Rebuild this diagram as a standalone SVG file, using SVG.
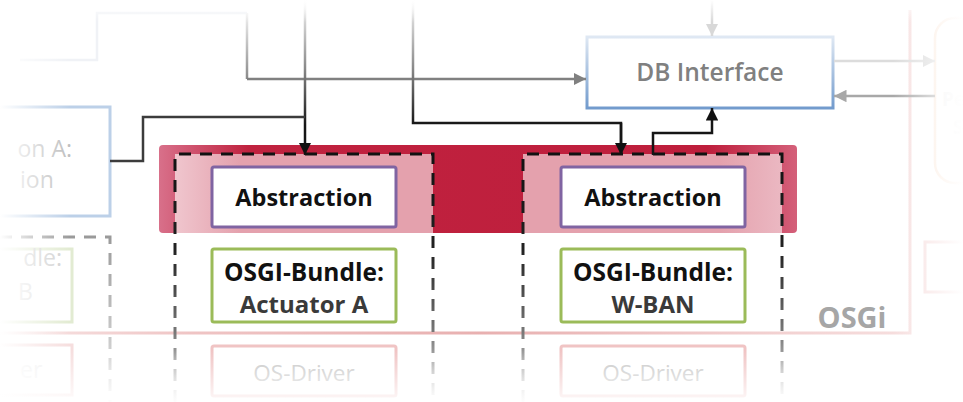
<svg xmlns="http://www.w3.org/2000/svg" width="963" height="402" viewBox="0 0 963 402">
<defs>
<style>
.t{font-family:"Open Sans","Noto Sans","Liberation Sans",sans-serif;text-anchor:middle}
.b{font-weight:700}
.abs{fill:#fff;stroke:#8064a2;stroke-width:3}
.bun{fill:#fff;stroke:#9bbb59;stroke-width:3}
.drv{fill:#fff;stroke:#f0c4c4;stroke-width:3}
.dash{fill:none;stroke-width:3;stroke-dasharray:12 9}
</style>
<linearGradient id="band" gradientUnits="userSpaceOnUse" x1="159" y1="0" x2="797" y2="0">
<stop offset="0" stop-color="#d8708a"/><stop offset="0.14" stop-color="#c0223f"/><stop offset="0.86" stop-color="#be1e3c"/><stop offset="1" stop-color="#d4607a"/>
</linearGradient>
<linearGradient id="pinkL" gradientUnits="userSpaceOnUse" x1="175" y1="0" x2="240" y2="0">
<stop offset="0" stop-color="#f0c6ce"/><stop offset="1" stop-color="#e4a1ad"/>
</linearGradient>
<linearGradient id="pinkR" gradientUnits="userSpaceOnUse" x1="720" y1="0" x2="782" y2="0">
<stop offset="0" stop-color="#e4a1ad"/><stop offset="1" stop-color="#ebb8c2"/>
</linearGradient>
<linearGradient id="dashG" gradientUnits="userSpaceOnUse" x1="0" y1="150" x2="0" y2="402">
<stop offset="0" stop-color="#111"/><stop offset="0.4" stop-color="#222"/><stop offset="0.72" stop-color="#777"/><stop offset="1" stop-color="#e8e8e8"/>
</linearGradient>
<linearGradient id="dashB" gradientUnits="userSpaceOnUse" x1="0" y1="237" x2="0" y2="402">
<stop offset="0" stop-color="#9a9a9a"/><stop offset="1" stop-color="#e8e8e8"/>
</linearGradient>
<linearGradient id="vline" gradientUnits="userSpaceOnUse" x1="0" y1="0" x2="0" y2="125">
<stop offset="0" stop-color="#f6f6f6"/><stop offset="0.55" stop-color="#888"/><stop offset="1" stop-color="#151515"/>
</linearGradient>
<linearGradient id="gline" gradientUnits="userSpaceOnUse" x1="0" y1="13" x2="0" y2="79">
<stop offset="0" stop-color="#f2f2f2"/><stop offset="1" stop-color="#8a8a8a"/>
</linearGradient>
<linearGradient id="dbs" x1="0" y1="0" x2="0" y2="1">
<stop offset="0" stop-color="#dfe8f3"/><stop offset="1" stop-color="#729bcd"/>
</linearGradient>
<linearGradient id="osgiL" gradientUnits="userSpaceOnUse" x1="0" y1="0" x2="963" y2="0">
<stop offset="0" stop-color="#f8e6e6"/><stop offset="0.2" stop-color="#efc4c4"/><stop offset="0.5" stop-color="#e8b0b0"/><stop offset="0.8" stop-color="#f2d0d0"/><stop offset="1" stop-color="#f8e4e4"/>
</linearGradient>
<linearGradient id="fadeL" x1="0" y1="0" x2="1" y2="0">
<stop offset="0" stop-color="#fff" stop-opacity="1"/><stop offset="1" stop-color="#fff" stop-opacity="0"/>
</linearGradient>
<linearGradient id="fadeR" x1="1" y1="0" x2="0" y2="0">
<stop offset="0" stop-color="#fff" stop-opacity="1"/><stop offset="1" stop-color="#fff" stop-opacity="0"/>
</linearGradient>
<linearGradient id="fadeT" x1="0" y1="0" x2="0" y2="1">
<stop offset="0" stop-color="#fff" stop-opacity="1"/><stop offset="1" stop-color="#fff" stop-opacity="0"/>
</linearGradient>
<linearGradient id="fadeB" x1="0" y1="1" x2="0" y2="0">
<stop offset="0" stop-color="#fff" stop-opacity="0.9"/><stop offset="1" stop-color="#fff" stop-opacity="0"/>
</linearGradient>
<marker id="ak" viewBox="0 0 10 10" refX="10" refY="5" markerWidth="5" markerHeight="5" orient="auto" markerUnits="strokeWidth"><path d="M0,0 L10,5 L0,10 z" fill="#111"/></marker>
<marker id="ag" viewBox="0 0 10 10" refX="10" refY="5" markerWidth="5" markerHeight="5" orient="auto" markerUnits="strokeWidth"><path d="M0,0 L10,5 L0,10 z" fill="#808080"/></marker>
<marker id="al" viewBox="0 0 10 10" refX="10" refY="5" markerWidth="5" markerHeight="5" orient="auto" markerUnits="strokeWidth"><path d="M0,0 L10,5 L0,10 z" fill="#d8d8d8"/></marker>
<marker id="am" viewBox="0 0 10 10" refX="10" refY="5" markerWidth="5" markerHeight="5" orient="auto" markerUnits="strokeWidth"><path d="M0,0 L10,5 L0,10 z" fill="#a8a8a8"/></marker>
</defs>
<rect width="963" height="402" fill="#fff"/>

<g id="osgi-frame">
<path d="M0,333 H910 V10" fill="none" stroke="url(#osgiL)" stroke-width="3"/>
<text class="t b" x="852" y="328" font-size="29" fill="#a6a6a6">OSGi</text>
</g>

<g id="persistence">
<rect x="935" y="18" width="80" height="165" rx="20" fill="none" stroke="#fbe8da" stroke-width="2.5"/>
<text class="t b" x="942" y="106" font-size="19" fill="#efefef" style="text-anchor:start">Pe</text>
<text class="t b" x="953" y="134" font-size="19" fill="#efefef" style="text-anchor:start">S</text>
</g>
<g id="right-box"><rect x="925" y="242" width="70" height="50" fill="none" stroke="#f6dcdc" stroke-width="3"/></g>

<g id="application-a">
<rect x="-30" y="107" width="140" height="109" fill="#fff" stroke="#bcd0e8" stroke-width="3"/>
<text class="t" x="72" y="157" font-size="23" fill="#bfbfbf" style="text-anchor:end">on A:</text>
<text class="t" x="20" y="188" font-size="23" fill="#bfbfbf" style="text-anchor:start">ion</text>
</g>

<g id="bundle-b-container">
<path class="dash" d="M0,237 H110 V402" stroke="url(#dashB)"/>
</g>
<g id="bundle-b">
<rect x="-30" y="249" width="102" height="73" fill="#fff" stroke="#e2ebd2" stroke-width="3"/>
<text class="t" x="62" y="266" font-size="23" fill="#d0d0d0" style="text-anchor:end">dle:</text>
<text class="t" x="18" y="300" font-size="23" fill="#dedede" style="text-anchor:start">B</text>
</g>
<g id="os-driver-b">
<rect x="-30" y="345" width="102" height="50" fill="#fff" stroke="#f6dede" stroke-width="3"/>
<text class="t" x="20" y="378" font-size="23" fill="#ececec" style="text-anchor:start">er</text>
</g>

<g id="abstraction-layer">
<rect x="159" y="145" width="638" height="88" rx="4" fill="url(#band)"/>
<rect x="175" y="154" width="258" height="79" fill="url(#pinkL)"/>
<rect x="523" y="154" width="259" height="79" fill="url(#pinkR)"/>
</g>

<g id="bundle-container-a">
<path class="dash" d="M175,402 V154 H433 V402" stroke="url(#dashG)"/>
</g>
<g id="bundle-container-wban">
<path class="dash" d="M523,402 V154 H782 V402" stroke="url(#dashG)"/>
</g>

<g id="abstraction-a">
<rect class="abs" x="212" y="167" width="184" height="60" rx="2"/>
<text class="t b" x="304" y="206" font-size="23.5" fill="#111">Abstraction</text>
</g>
<g id="abstraction-wban">
<rect class="abs" x="561" y="167" width="184" height="60" rx="2"/>
<text class="t b" x="653" y="206" font-size="23.5" fill="#111">Abstraction</text>
</g>

<g id="bundle-actuator-a">
<rect class="bun" x="212" y="249" width="184" height="73" rx="2"/>
<text class="t b" x="304" y="281" font-size="24.5" fill="#111">OSGI-Bundle:</text>
<text class="t b" x="304" y="313" font-size="24" fill="#3a3a3a">Actuator A</text>
</g>
<g id="bundle-wban">
<rect class="bun" x="561" y="249" width="184" height="73" rx="2"/>
<text class="t b" x="653" y="281" font-size="24.5" fill="#111">OSGI-Bundle:</text>
<text class="t b" x="653" y="313" font-size="24" fill="#3a3a3a">W-BAN</text>
</g>

<g id="os-driver-a">
<rect class="drv" x="212" y="346" width="184" height="50" rx="2"/>
<text class="t" x="304" y="381" font-size="22.5" fill="#c4c4c4">OS-Driver</text>
</g>
<g id="os-driver-wban">
<rect class="drv" x="561" y="346" width="184" height="50" rx="2"/>
<text class="t" x="653" y="381" font-size="22.5" fill="#c4c4c4">OS-Driver</text>
</g>

<g id="db-interface">
<rect x="587" y="37" width="246" height="71" fill="#fff" stroke="url(#dbs)" stroke-width="3"/>
<text class="t" x="710" y="81" font-size="24.5" font-weight="600" fill="#808080">DB Interface</text>
</g>

<g id="connectors" fill="none">
<path d="M20,60 H97 V13 H247" stroke="#f0f2f6" stroke-width="2.5"/>
<path d="M247,13 V79" stroke="url(#gline)" stroke-width="2.5"/>
<path d="M247,79 H586" stroke="#808080" stroke-width="2.5" marker-end="url(#ag)"/>
<path d="M305,0 V155" stroke="url(#vline)" stroke-width="2.5" marker-end="url(#ak)"/>
<path d="M110,161 H143 V117 H305" stroke="#3c3c3c" stroke-width="2.5"/>
<path d="M413,0 V123 H621 V155" stroke="url(#vline)" stroke-width="2.5"/>
<path d="M621,123 V155" stroke="#151515" stroke-width="2.5" marker-end="url(#ak)"/>
<path d="M653,155 V133 H712 V108" stroke="#151515" stroke-width="2.5" marker-end="url(#ak)"/>
<path d="M712,0 V36" stroke="#d8d8d8" stroke-width="2.5" marker-end="url(#al)"/>
<path d="M834,61 H935" stroke="#dcdcdc" stroke-width="2.5" marker-end="url(#al)"/>
<path d="M935,96 H834" stroke="#a8a8a8" stroke-width="2.5" marker-end="url(#am)"/>
</g>

<g id="vignette">
<rect x="0" y="0" width="70" height="402" fill="url(#fadeL)"/>
<rect x="893" y="0" width="70" height="402" fill="url(#fadeR)"/>
<rect x="0" y="0" width="963" height="22" fill="url(#fadeT)"/>
<rect x="0" y="350" width="963" height="52" fill="url(#fadeB)"/>
</g>
</svg>
